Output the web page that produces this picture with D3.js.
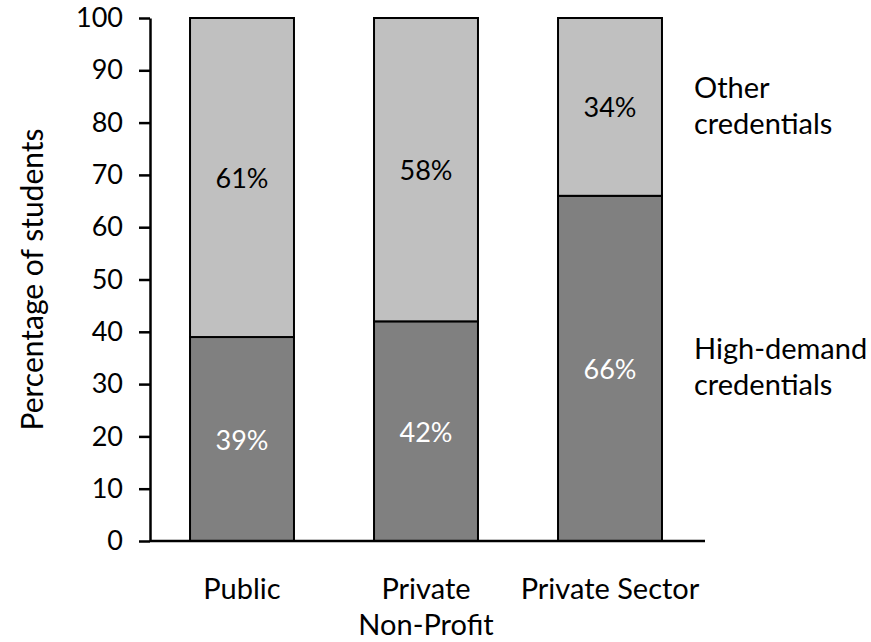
<!DOCTYPE html>
<head>
	<meta charset="UTF-8">
	<script src="https://d3js.org/d3.v7.min.js"></script>
	<title>Credentials by sector</title>
<style>
	body{ margin: 0; background-color: white; }
	svg text{ font-family: 'Lato', 'Open Sans', sans-serif; font-size: 29px; fill: black; }
	.num{ font-size: 27px; }
</style>
</head>

<body>
	<svg width=871 height=642></svg>
</body>

<script>
	// Data
	var categories = ["Public", "Private Non-Profit", "Private Sector"];
	var categoryLines = [["Public"], ["Private", "Non-Profit"], ["Private Sector"]];
	var highDemand = [39, 42, 66];
	var other = [61, 58, 34];
	var yTicks = [0, 10, 20, 30, 40, 50, 60, 70, 80, 90, 100];
	var legendLines = [["Other", "credentials"], ["High-demand", "credentials"]];

	var svg = d3.select("svg");

	// Scales
	var x = d3.scaleBand()
				.domain(categories)
				.range([150, 702])
				.paddingInner(0.435)
				.paddingOuter(0.2175);
	var y = d3.scaleLinear()
				.domain([0, 100])
				.range([541, 18]);

	// Stacked rows
	var rows = categories.map(function(c, i){
		return {cat: c, high: highDemand[i], other: other[i]};
	});

	// Bars: bottom segment (high-demand)
	svg.append("g").selectAll("rect")
		.data(rows).enter()
		.append("rect")
		.attr("x", d => x(d.cat))
		.attr("width", x.bandwidth())
		.attr("y", d => y(d.high))
		.attr("height", d => y(0) - y(d.high))
		.attr("fill", "#808080")
		.attr("stroke", "black")
		.attr("stroke-width", 2);

	// Bars: top segment (other)
	svg.append("g").selectAll("rect")
		.data(rows).enter()
		.append("rect")
		.attr("x", d => x(d.cat))
		.attr("width", x.bandwidth())
		.attr("y", d => y(d.high + d.other))
		.attr("height", d => y(d.high) - y(d.high + d.other))
		.attr("fill", "#c0c0c0")
		.attr("stroke", "black")
		.attr("stroke-width", 2);

	// Value labels
	svg.append("g").selectAll("text")
		.data(rows).enter()
		.append("text")
		.attr("class", "num")
		.attr("x", d => x(d.cat) + x.bandwidth()/2)
		.attr("y", d => y(d.high/2))
		.attr("text-anchor", "middle")
		.attr("dominant-baseline", "central")
		.style("fill", "white")
		.text(d => d.high + "%");

	svg.append("g").selectAll("text")
		.data(rows).enter()
		.append("text")
		.attr("class", "num")
		.attr("x", d => x(d.cat) + x.bandwidth()/2)
		.attr("y", d => y(d.high + d.other/2))
		.attr("text-anchor", "middle")
		.attr("dominant-baseline", "central")
		.text(d => d.other + "%");

	// Y axis
	var yAxis = svg.append("g")
		.attr("transform", "translate(150,0)")
		.call(d3.axisLeft(y).tickValues(yTicks).tickSize(11).tickSizeOuter(0).tickPadding(16));
	yAxis.selectAll("line, path").attr("stroke", "black").attr("stroke-width", 2.5);
	yAxis.selectAll("text").attr("class", "num").attr("font-family", null).attr("font-size", null);

	// X axis (line only, custom labels)
	var xAxis = svg.append("g")
		.attr("transform", "translate(0," + y(0) + ")")
		.call(d3.axisBottom(x).tickSize(0).tickSizeOuter(0).tickFormat(""));
	xAxis.select("path").attr("stroke", "black").attr("stroke-width", 2.5).attr("d", "M150,0H705");

	var catLabels = svg.append("g").selectAll("text")
		.data(categories).enter()
		.append("text")
		.attr("text-anchor", "middle")
		.attr("x", d => x(d) + x.bandwidth()/2)
		.attr("y", 599);
	catLabels.selectAll("tspan")
		.data((d, i) => categoryLines[i]).enter()
		.append("tspan")
		.attr("x", function(){ return this.parentNode.getAttribute("x"); })
		.attr("dy", (d, j) => j == 0 ? 0 : 36)
		.text(d => d);

	// Y axis title
	svg.append("text")
		.attr("transform", "translate(43," + ((y(0) + y(100))/2) + ") rotate(-90)")
		.attr("text-anchor", "middle")
		.style("font-size", "30px")
		.text("Percentage of students");

	// Series labels beside the last bar
	var last = rows[rows.length - 1];
	var legendY = [y(last.high + last.other/2), y(last.high/2)];
	var legend = svg.append("g").selectAll("text")
		.data(legendLines).enter()
		.append("text")
		.attr("x", 694)
		.attr("y", (d, i) => legendY[i] - 9);
	legend.selectAll("tspan")
		.data(d => d).enter()
		.append("tspan")
		.attr("x", 694)
		.attr("dy", (d, j) => j == 0 ? 0 : 36)
		.text(d => d);
</script>
